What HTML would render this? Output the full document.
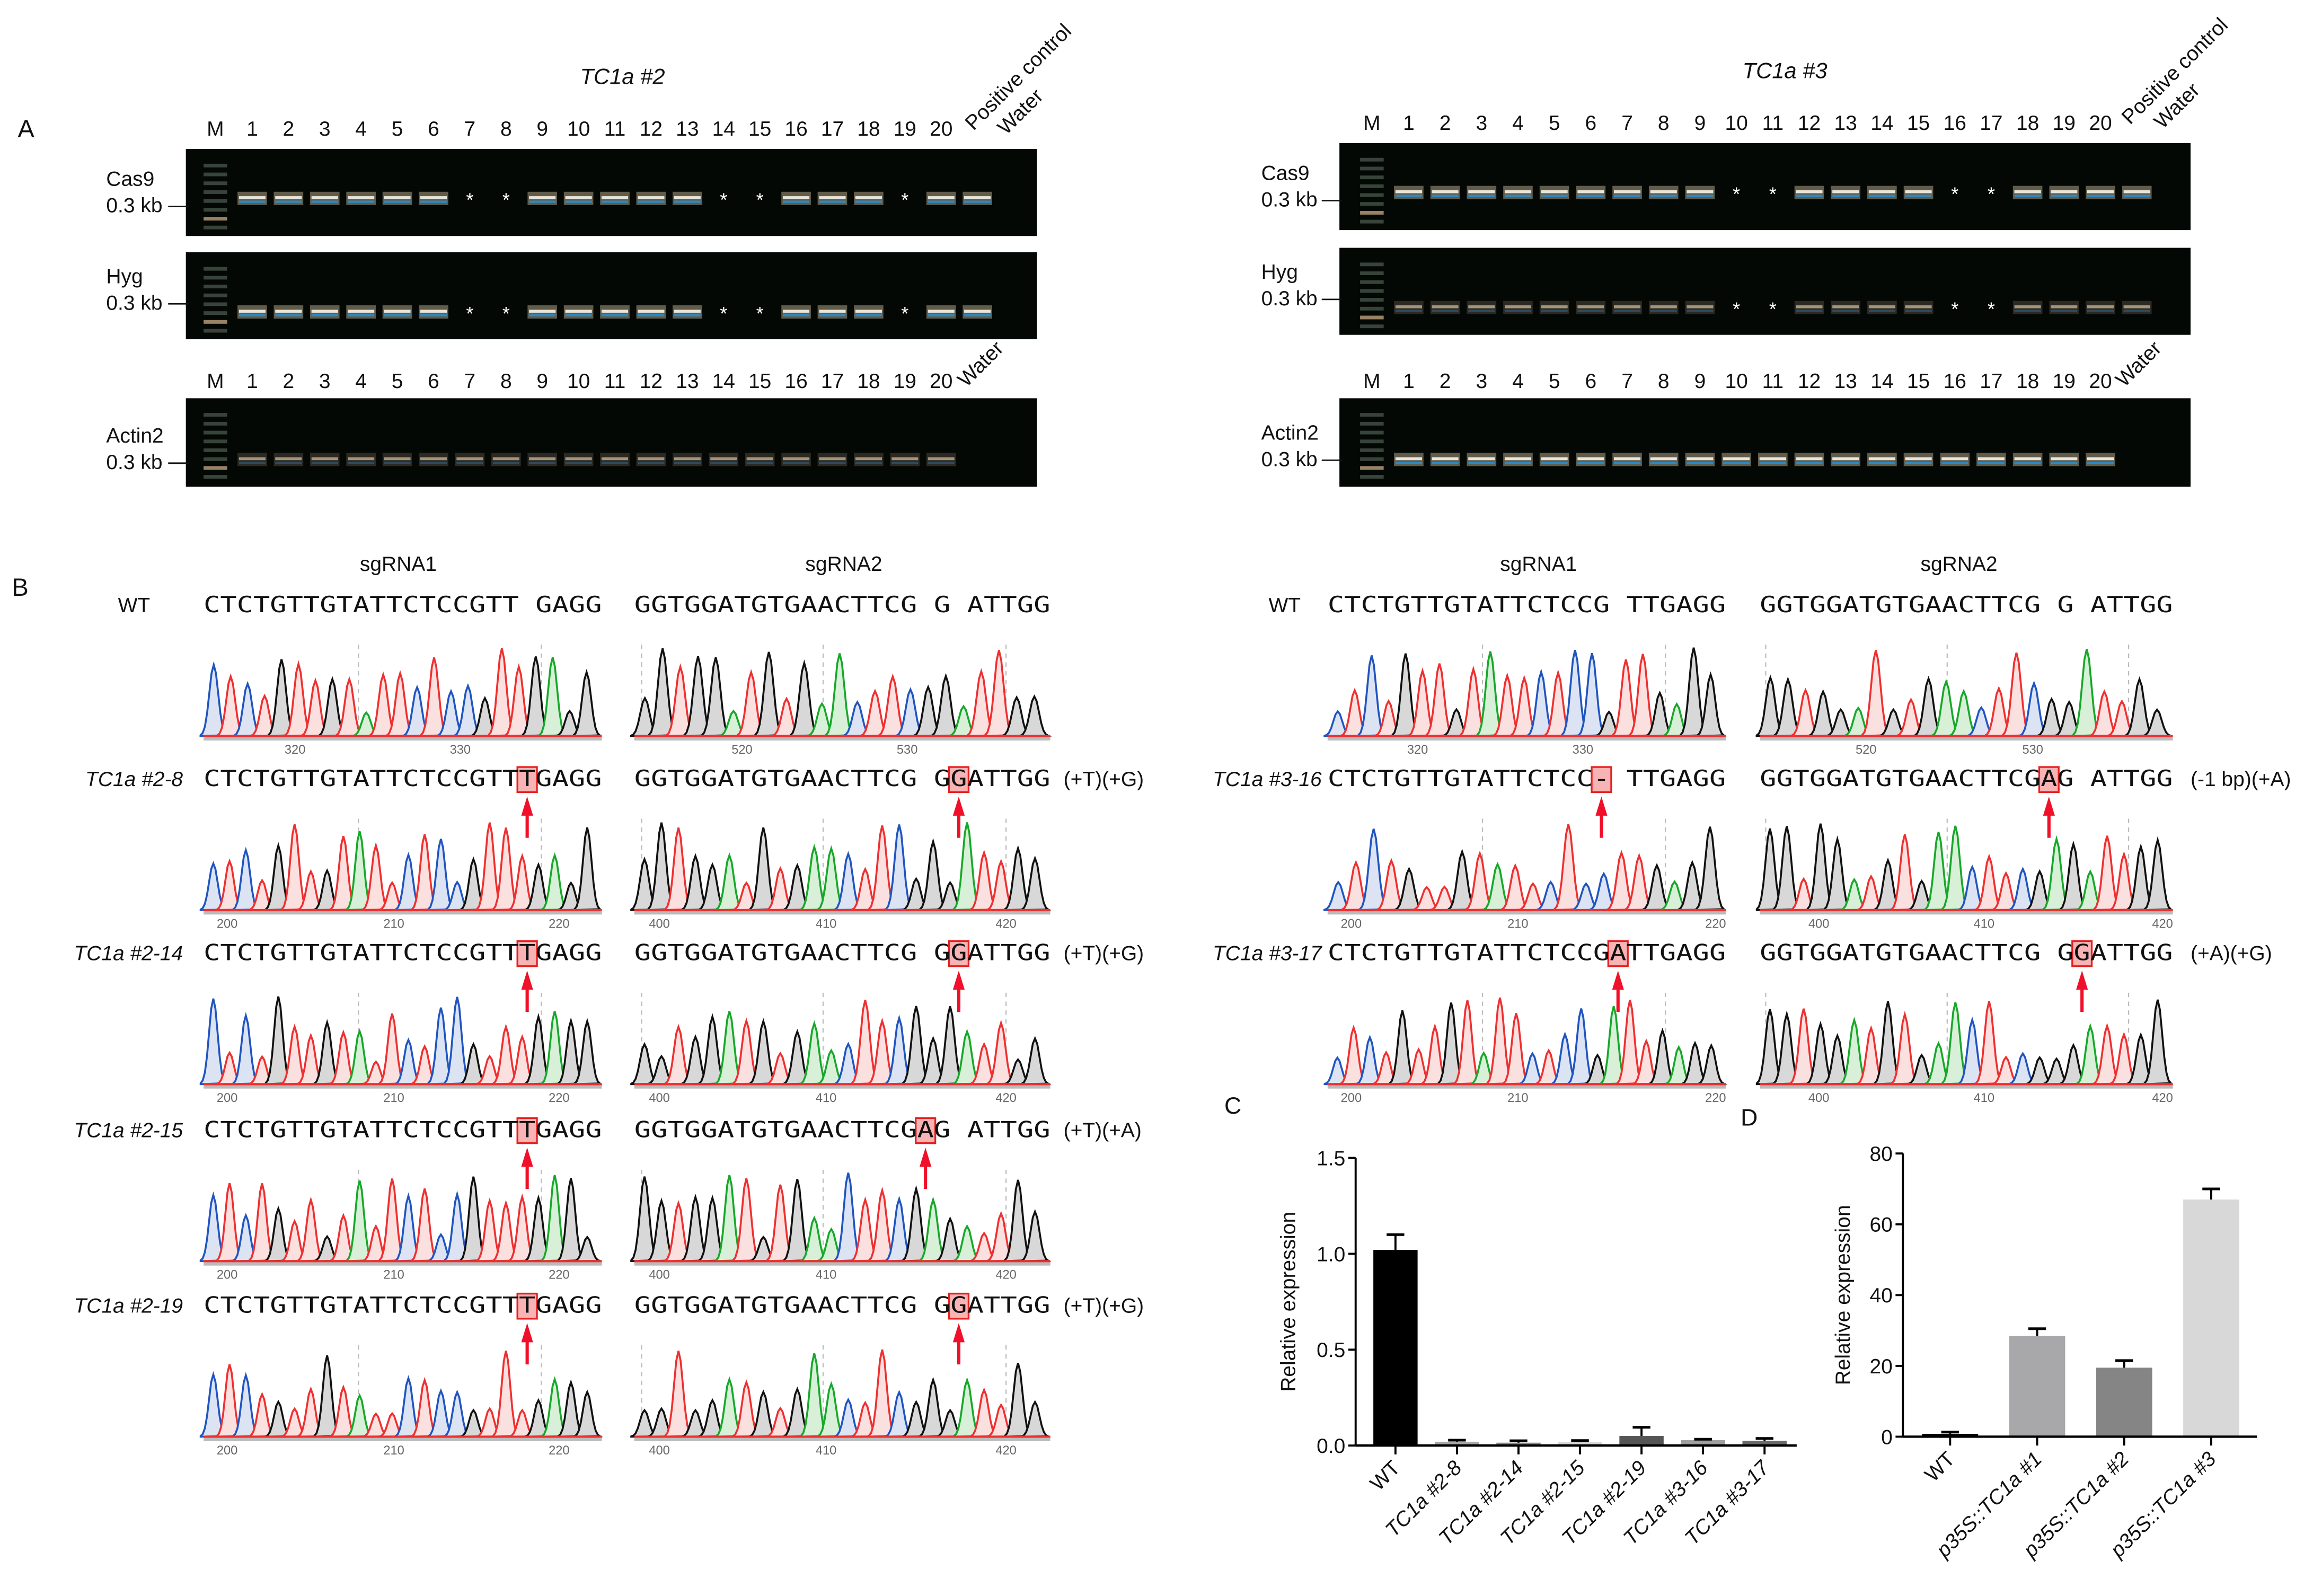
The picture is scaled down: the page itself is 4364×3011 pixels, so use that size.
<!DOCTYPE html>
<html><head><meta charset="utf-8"><style>
html,body{margin:0;padding:0;background:#fff;}
svg{display:block;}
text{font-family:"Liberation Sans",sans-serif;}
.mono{font-family:"DejaVu Sans Mono","Liberation Mono",monospace;}
</style></head><body>
<svg id="fig" width="4364" height="3011" viewBox="0 0 1568 1082" preserveAspectRatio="none" xmlns="http://www.w3.org/2000/svg">
<g id="gA"></g>
<g id="gB"></g>
<g id="gC"></g>
<g id="gD"></g>
</svg>
<script>
// ---- Chart C data ----
const cCategories = ["WT","TC1a #2-8","TC1a #2-14","TC1a #2-15","TC1a #2-19","TC1a #3-16","TC1a #3-17"];
const cValues = [1.02,0.02,0.015,0.018,0.05,0.028,0.025];
const cErrors = [0.08,0.008,0.01,0.008,0.045,0.005,0.012];
const cTicks = [0,0.5,1.0,1.5];
const cTickLabels = ["0.0","0.5","1.0","1.5"];
// ---- Chart D data ----
const dCategories = ["WT","p35S::TC1a #1","p35S::TC1a #2","p35S::TC1a #3"];
const dValues = [0.8,28.5,19.5,67];
const dErrors = [0.5,2,2,3];
const dTicks = [0,20,40,60,80];
const dTickLabels = ["0","20","40","60","80"];

const NS="http://www.w3.org/2000/svg";
function mk(tag,attrs,parent,txt){const e=document.createElementNS(NS,tag);for(const k in attrs)e.setAttribute(k,attrs[k]);if(txt!==undefined)e.textContent=txt;parent.appendChild(e);return e;}
function T(parent,x,y,s,size,opts){opts=opts||{};const e=mk('text',{x:x,y:y,'font-size':size,'text-anchor':opts.anchor||'start',fill:opts.fill||'#111'},parent,s);if(opts.italic)e.setAttribute('font-style','italic');if(opts.rot)e.setAttribute('transform',`rotate(${opts.rot} ${x} ${y})`);if(opts.cls)e.setAttribute('class',opts.cls);return e;}

// ================= Panel A =================
const gA=document.getElementById('gA');
let t=T(gA,12,93,"A",17);


function gelSet(cfg){
  const g=mk('g',{},gA);
  
  
  let tt=T(g,cfg.titleX,cfg.titleY,cfg.title,15,{italic:true,anchor:'middle'});
  
  
  function laneRow(y,extra){
    T(g,cfg.mX,y,"M",14,{anchor:'middle'});
    for(let i=1;i<=20;i++)T(g,cfg.l1+(i-1)*cfg.sp,y,String(i),14,{anchor:'middle'});
    extra(y);
  }
  function gel(y0,h,label,lblY,bandY,stars,lanes,bright){
    const r=mk('rect',{x:cfg.gx,y:y0,width:cfg.gw,height:h,fill:'#030805'},g);
    
    
    for(let k=0;k<8;k++){mk('rect',{x:cfg.mX-8,y:y0+10+k*6,width:16,height:2.5,fill:k==6?'#a89070':'#3e4a40',opacity:0.9},g);}
    const lbl=T(g,cfg.labX,lblY,label,14);
    
    
    T(g,cfg.labX2,lblY+18,"0.3 kb",14);
    mk('line',{x1:cfg.gx-12,y1:lblY+14,x2:cfg.gx+2,y2:lblY+14,stroke:'#111','stroke-width':1},g);
    for(let i=1;i<=lanes;i++){
      const x=cfg.l1+(i-1)*cfg.sp;
      if(stars.includes(i)){T(g,x,bandY+6,"*",13,{anchor:'middle',fill:'#fff'});continue;}
      const by=bandY;
      mk('rect',{x:x-10,y:by-4,width:20,height:9,fill:bright?'#8a8068':'#4a4034',opacity:bright?0.7:0.6},g);
      mk('rect',{x:x-9,y:by-1,width:18,height:2,fill:bright?'#e8e4d8':'#a0947a'},g);
      mk('rect',{x:x-9,y:by+2,width:18,height:1.5,fill:bright?'#2a8ac8':'#304a60'},g);
    }
  }
  laneRow(cfg.rowY,(y)=>{T(g,cfg.posX,y-3,"Positive control",14,{rot:-45});T(g,cfg.watX,y,"Water",14,{rot:-45});});
  gel(cfg.g1y,59,"Cas9",cfg.g1y+25,cfg.g1y+33,cfg.stars,21,true);
  gel(cfg.g2y,59,"Hyg",cfg.g2y+21,cfg.g2y+40,cfg.stars,21,cfg.hygBright);
  laneRow(263,(y)=>{T(g,cfg.wat2X,y,"Water",14,{rot:-45});});
  gel(270,60,"Actin2",cfg.actY,311,[],20,cfg.actBright);
}
gelSet({name:'gel-set-tc1a-2',title:"TC1a #2",titleX:422,titleY:57,mX:146,l1:171,sp:24.58,rowY:92,posX:660,watX:682,wat2X:655,gx:126,gw:577,g1y:101,g2y:171,labX:72,labX2:72,actY:300,stars:[7,8,14,15,19],hygBright:true,actBright:false});
gelSet({name:'gel-set-tc1a-3',title:"TC1a #3",titleX:1210,titleY:53,mX:930,l1:955,sp:24.68,rowY:88,posX:1444,watX:1466,wat2X:1440,gx:908,gw:577,g1y:97,g2y:168,labX:855,labX2:855,actY:298,stars:[10,11,16,17],hygBright:false,actBright:true});

// ================= Panel B =================
const gB=document.getElementById('gB');
t=T(gB,8,404,"B",17);


const colors={A:'#17a82a',C:'#2055c0',G:'#111111',T:'#ee3030'};
const fills={A:'#d8f0d8',C:'#dce4f4',G:'#d8d8d8',T:'#fbe0e0'};
function hsh(n){let x=Math.sin(n*12.9898+78.233)*43758.5453;return x-Math.floor(x);}
function chrom(x0,w,base,seq,seed,ticks,dashes){
  const g=mk('g',{},gB);
  
  
  mk('rect',{x:x0,y:base,width:w,height:3,fill:'#bbb'},g);
  dashes.forEach(d=>mk('line',{x1:d,y1:base-62,x2:d,y2:base,stroke:'#bbb','stroke-dasharray':'3,3','stroke-width':0.8},g));
  const s=seq.replace(/[ \-]/g,'');
  const n=s.length, step=w/(n+0.5);
  for(let i=0;i<n;i++){
    const c=s[i];const cx=x0+step*(i+0.6);const h=15+hsh(i+seed)*45;const sd=step*0.26;
    let d=`M${cx-3*sd},${base}`;
    for(let k=-3;k<=3.01;k+=0.5){d+=` L${(cx+k*sd).toFixed(2)},${(base-h*Math.exp(-k*k/2)).toFixed(2)}`;}
    mk('path',{d:d+' Z',fill:fills[c],stroke:colors[c],'stroke-width':1.3},g);
  }
  mk('line',{x1:x0,y1:base,x2:x0+w,y2:base,stroke:'#ee3030','stroke-width':1.5},g);
  ticks.forEach(tk=>T(g,tk[1],base+12,tk[0],8.5,{anchor:'middle',fill:'#666'}));
}
function seqText(x,y,w,s,hl,arrow){
  const g=mk('g',{},gB);
  
  
  const cw=w/s.length;
  if(hl>=0){mk('rect',{x:x+hl*cw-1,y:y-13,width:cw+2,height:17,fill:'#f8b4b4',stroke:'#e82020','stroke-width':1.2},g);}
  const e=T(g,x,y,s,15,{cls:'mono'});
  e.setAttribute('textLength',w);e.setAttribute('lengthAdjust','spacingAndGlyphs');
  if(hl>=0&&arrow){const ax=x+hl*cw+cw/2;mk('line',{x1:ax,y1:y+35,x2:ax,y2:y+14,stroke:'#f0102a','stroke-width':2.2},g);mk('path',{d:`M${ax-4},${y+20} L${ax},${y+7} L${ax+4},${y+20} Z`,fill:'#f0102a'},g);}
}
T(gB,270,387,"sgRNA1",14,{anchor:'middle'});T(gB,572,387,"sgRNA2",14,{anchor:'middle'});
T(gB,1043,387,"sgRNA1",14,{anchor:'middle'});T(gB,1328,387,"sgRNA2",14,{anchor:'middle'});
const L1={x:138,w:270},L2={x:430,w:282},R1={x:900,w:270},R2={x:1193,w:280};
const leftRows=[
 {lab:"WT",it:false,y:415,s1:"CTCTGTTGTATTCTCCGTT GAGG",h1:-1,s2:"GGTGGATGTGAACTTCG G ATTGG",h2:-1,note:"",wt:true},
 {lab:"TC1a #2-8",it:true,y:533,s1:"CTCTGTTGTATTCTCCGTTTGAGG",h1:19,s2:"GGTGGATGTGAACTTCG GGATTGG",h2:19,note:"(+T)(+G)"},
 {lab:"TC1a #2-14",it:true,y:651,s1:"CTCTGTTGTATTCTCCGTTTGAGG",h1:19,s2:"GGTGGATGTGAACTTCG GGATTGG",h2:19,note:"(+T)(+G)"},
 {lab:"TC1a #2-15",it:true,y:771,s1:"CTCTGTTGTATTCTCCGTTTGAGG",h1:19,s2:"GGTGGATGTGAACTTCGAG ATTGG",h2:17,note:"(+T)(+A)"},
 {lab:"TC1a #2-19",it:true,y:890,s1:"CTCTGTTGTATTCTCCGTTTGAGG",h1:19,s2:"GGTGGATGTGAACTTCG GGATTGG",h2:19,note:"(+T)(+G)"}];
leftRows.forEach((r,i)=>{
  T(gB,r.wt?80:124,r.y,r.lab,14,{italic:r.it,anchor:r.wt?'start':'end'});
  seqText(L1.x,r.y,L1.w,r.s1,r.h1,!r.wt);seqText(L2.x,r.y,L2.w,r.s2,r.h2,!r.wt);
  if(r.note)T(gB,721,r.y,r.note,14);
  const base=r.y+84;
  chrom(L1.x,L1.w,base,r.s1,i*31+1,r.wt?[["320",200],["330",312]]:[["200",154],["210",267],["220",379]],[243,367]);
  chrom(L2.x,L2.w,base,r.s2,i*31+17,r.wt?[["520",503],["530",615]]:[["400",447],["410",560],["420",682]],[435,558,682]);
});
const rightRows=[
 {lab:"WT",it:false,y:415,s1:"CTCTGTTGTATTCTCCG TTGAGG",h1:-1,s2:"GGTGGATGTGAACTTCG G ATTGG",h2:-1,note:"",wt:true},
 {lab:"TC1a #3-16",it:true,y:533,s1:"CTCTGTTGTATTCTCC- TTGAGG",h1:16,s2:"GGTGGATGTGAACTTCGAG ATTGG",h2:17,note:"(-1 bp)(+A)"},
 {lab:"TC1a #3-17",it:true,y:651,s1:"CTCTGTTGTATTCTCCGATTGAGG",h1:17,s2:"GGTGGATGTGAACTTCG GGATTGG",h2:19,note:"(+A)(+G)"}];
rightRows.forEach((r,i)=>{
  T(gB,r.wt?860:896,r.y,r.lab,14,{italic:r.it,anchor:r.wt?'start':'end'});
  seqText(R1.x,r.y,R1.w,r.s1,r.h1,!r.wt);seqText(R2.x,r.y,R2.w,r.s2,r.h2,!r.wt);
  if(r.note)T(gB,1485,r.y,r.note,14);
  const base=r.y+84;
  chrom(R1.x,R1.w,base,r.s1,i*29+101,r.wt?[["320",961],["330",1073]]:[["200",916],["210",1029],["220",1163]],[1005,1129]);
  chrom(R2.x,R2.w,base,r.s2,i*29+137,r.wt?[["520",1265],["530",1378]]:[["400",1233],["410",1345],["420",1466]],[1197,1320,1443]);
});

// ================= Bar charts =================
function barChart(g,cfg){
  const y=v=>cfg.y0-(v-cfg.vmin)/(cfg.vmax-cfg.vmin)*(cfg.y0-cfg.y1);
  const xc=i=>cfg.c0+i*cfg.sp;
  const ax=mk('g',{},g);
  
  
  mk('line',{x1:cfg.ax,y1:y(cfg.vmax),x2:cfg.ax,y2:cfg.y0,stroke:'#000','stroke-width':1.4},ax);
  cfg.ticks.forEach((tv,i)=>{mk('line',{x1:cfg.ax-5,y1:y(tv),x2:cfg.ax,y2:y(tv),stroke:'#000','stroke-width':1.4},ax);T(ax,cfg.ax-7,y(tv)+5,cfg.tickLabels[i],14,{anchor:'end'});});
  const yl=T(g,cfg.ylx,(cfg.y0+y(cfg.vmax))/2,"Relative expression",14,{anchor:'middle',rot:-90});
  
  
  cfg.vals.forEach((v,i)=>{
    const b=mk('rect',{x:xc(i)-cfg.bw/2,y:y(v),width:cfg.bw,height:cfg.y0-y(v),fill:cfg.colors[i]},g);
    
    
    const et=y(v+cfg.errs[i]);
    mk('line',{x1:xc(i),y1:y(v),x2:xc(i),y2:et,stroke:'#000','stroke-width':1.4},g);
    mk('line',{x1:xc(i)-6,y1:et,x2:xc(i)+6,y2:et,stroke:'#000','stroke-width':1.8},g);
    mk('line',{x1:xc(i),y1:cfg.y0,x2:xc(i),y2:cfg.y0+6,stroke:'#000','stroke-width':1.4},g);
    const lt=T(g,xc(i)+4,cfg.y0+16,cfg.cats[i],14,{anchor:'end',rot:-45,italic:cfg.italicFrom!==undefined&&i>=cfg.italicFrom});
    
    
  });
  const xa=mk('line',{x1:cfg.ax,y1:cfg.y0,x2:cfg.xend,y2:cfg.y0,stroke:'#000','stroke-width':1.6},g);
  
  
}
const gC=document.getElementById('gC');
T(gC,830,755,"C",16);
barChart(gC,{vmin:0,vmax:1.5,y0:980,y1:785,ax:919,xend:1218,c0:946,sp:41.7,bw:30,cats:cCategories,vals:cValues,errs:cErrors,ticks:cTicks,tickLabels:cTickLabels,ylx:878,colors:['#000','#a8a8a8','#8a8a8a','#d8d8d8','#555','#a0a0a0','#6a6a6a'],italicFrom:1});
const gD=document.getElementById('gD');
T(gD,1180,763,"D",16);
barChart(gD,{vmin:0,vmax:80,y0:974,y1:782,ax:1290,xend:1530,c0:1322,sp:59,bw:38,cats:dCategories,vals:dValues,errs:dErrors,ticks:dTicks,tickLabels:dTickLabels,ylx:1254,colors:['#000','#a8a8aa','#858585','#d8d8d8'],italicFrom:1});
</script>
</body></html>
